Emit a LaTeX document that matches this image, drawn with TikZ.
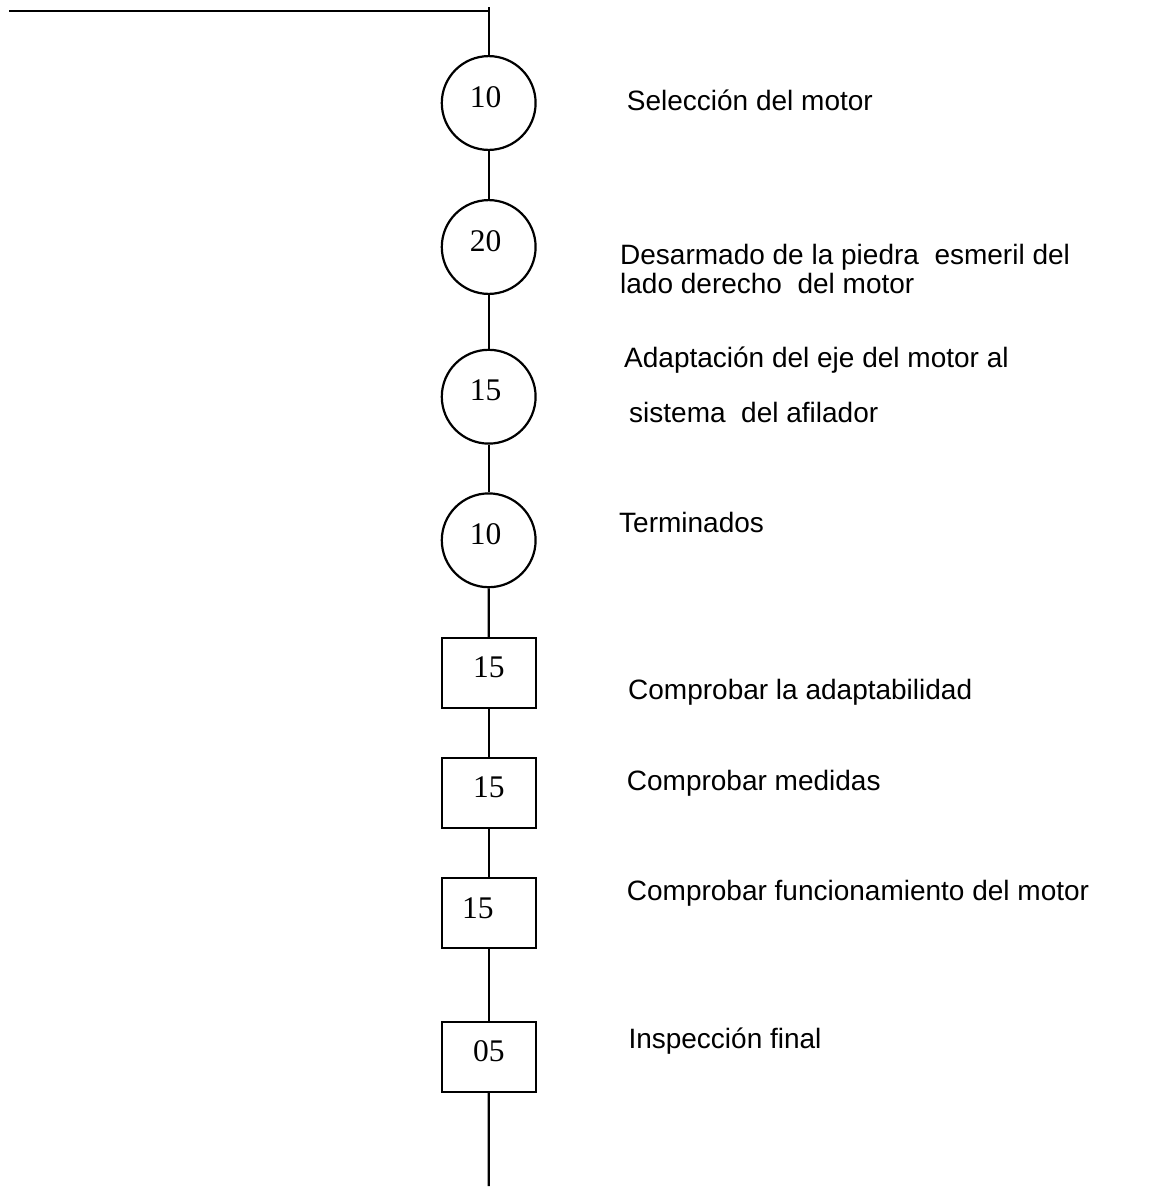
\documentclass[tikz,border=0pt]{standalone}
\usepackage{fontspec}
\setmainfont{Liberation Serif}
\newfontfamily\labelfont{Liberation Sans}
\begin{document}
\begin{tikzpicture}[x=1pt,y=-1pt,
  trunk/.style={line width=2.2pt, black},
  opcircle/.style={circle, draw, line width=2.2pt, minimum size=93.8pt, inner sep=0pt},
  inspbox/.style={rectangle, draw, line width=2.2pt, minimum width=94.1pt, minimum height=70.1pt, inner sep=0pt},
  num/.style={font=\fontsize{31.5}{31.5}\selectfont, inner sep=0pt},
  desc/.style={anchor=base west, inner sep=0pt, font=\labelfont\fontsize{28}{30}\selectfont}]
  \useasboundingbox (0,0) rectangle (1174,1187);

  % line entering from the left and the start of the vertical trunk
  \coordinate (lineL) at (9,11);
  \coordinate (corner) at (488.7,11);
  \coordinate (top) at (488.7,7);
  \coordinate (bottom) at (488.7,1186);

  % operations
  \node[opcircle, label={[num, yshift=6pt, xshift=-3pt]center:10}] (c1) at (488.7,103) {};
  \node[opcircle, label={[num, yshift=6pt, xshift=-3pt]center:20}] (c2) at (488.7,247) {};
  \node[opcircle, label={[num, yshift=6pt, xshift=-3pt]center:15}] (c3) at (488.7,396.7) {};
  \node[opcircle, label={[num, yshift=6pt, xshift=-3pt]center:10}] (c4) at (488.7,540.3) {};

  % inspections
  \node[inspbox, label={[num, yshift=6pt]center:15}] (r1) at (488.8,672.9) {};
  \node[inspbox, label={[num, yshift=6pt]center:15}] (r2) at (488.8,793) {};
  \node[inspbox, label={[num, yshift=5pt, xshift=-11pt]center:15}] (r3) at (488.8,912.9) {};
  \node[inspbox, label={[num, yshift=6pt]center:05}] (r4) at (488.8,1057) {};

  % connectors
  \draw[trunk] (lineL) -- (corner);
  \draw[trunk] (top) -- (c1);
  \draw[trunk] (c1) -- (c2);
  \draw[trunk] (c2) -- (c3);
  \draw[trunk] (c3) -- (c4);
  \draw[trunk] (c4) -- (r1);
  \draw[trunk] (r1) -- (r2);
  \draw[trunk] (r2) -- (r3);
  \draw[trunk] (r3) -- (r4);
  \draw[trunk] (r4) -- (bottom);

  % descriptions
  \node[desc] (t1) at (626.7,110) {Selección del motor};
  \node[desc] (t2a) at (620,264) {Desarmado de la piedra\ \ esmeril del};
  \node[desc] (t2b) at (620,293.5) {lado derecho\ \ del motor};
  \node[desc] (t3a) at (624,367.7) {Adaptación del eje del motor al};
  \node[desc] (t3b) at (629,422.7) {sistema\ \ del afilador};
  \node[desc] (t4) at (619,532.7) {Terminados};
  \node[desc] (t5) at (628,699.3) {Comprobar la adaptabilidad};
  \node[desc] (t6) at (626.7,790.7) {Comprobar medidas};
  \node[desc] (t7) at (626.7,900) {Comprobar funcionamiento del motor};
  \node[desc] (t8) at (628.3,1048) {Inspección final};
\end{tikzpicture}
\end{document}
